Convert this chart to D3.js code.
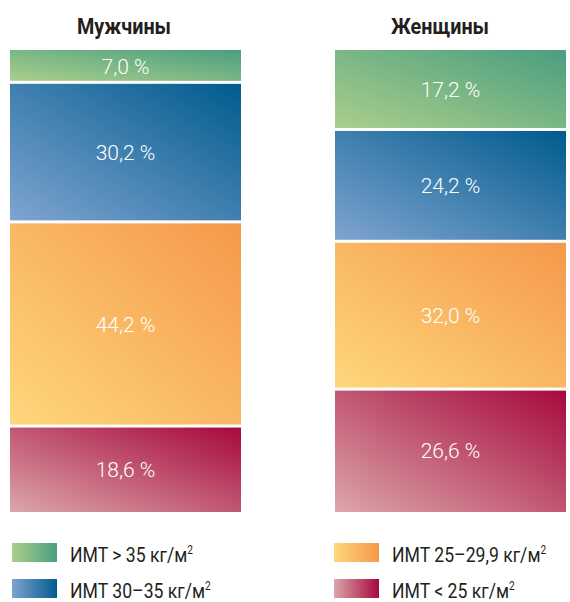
<!DOCTYPE html>
<html>
<head>
<meta charset="utf-8">
<script src="https://cdn.jsdelivr.net/npm/d3@7"></script>
<style>
  html, body { margin: 0; padding: 0; background: #fff; }
  svg { display: block; }
</style>
</head>
<body>
<svg id="chart" width="570" height="602"></svg>
<script>
// BMI distribution by sex, percent of group
const groups = ["Мужчины", "Женщины"];
const categories = ["ИМТ > 35 кг/м²", "ИМТ 30–35 кг/м²", "ИМТ 25–29,9 кг/м²", "ИМТ < 25 кг/м²"];
const menValues = [7.0, 30.2, 44.2, 18.6];
const womenValues = [17.2, 24.2, 32.0, 26.6];

// light (bottom-left) and dark (top-right) stops for each category
const lightColors = ["#aacf8b", "#7fa4d0", "#fed77c", "#dca6a9"];
const darkColors = ["#4b9e80", "#005b8e", "#f5984a", "#a6093d"];

const svg = d3.select("#chart");
const defs = svg.append("defs");

categories.forEach((c, i) => {
  const g = defs.append("linearGradient")
    .attr("id", "grad" + i)
    .attr("x1", 0).attr("y1", 1)
    .attr("x2", 1).attr("y2", 0);
  g.append("stop").attr("offset", "0%").attr("stop-color", lightColors[i]);
  g.append("stop").attr("offset", "100%").attr("stop-color", darkColors[i]);
});

const x = d3.scaleBand().domain(groups).range([10, 566]).paddingInner(0.2892);
const y = d3.scaleLinear().domain([0, 100]).range([50, 512]);
const gap = 3;

const data = [
  { group: groups[0], values: menValues },
  { group: groups[1], values: womenValues }
];

const titleX = { "Мужчины": 124, "Женщины": 440 };

data.forEach(d => {
  let cum = 0;
  const segs = d.values.map((v, i) => {
    const s = { i, v, y0: cum, y1: cum + v };
    cum += v;
    return s;
  });
  const col = svg.append("g");
  col.selectAll("rect")
    .data(segs)
    .join("rect")
    .attr("x", x(d.group))
    .attr("width", x.bandwidth())
    .attr("y", s => y(s.y0) + (s.i > 0 ? gap / 2 : 0))
    .attr("height", s => y(s.y1) - y(s.y0) - (s.i > 0 ? gap / 2 : 0) - (s.i < segs.length - 1 ? gap / 2 : 0))
    .attr("fill", s => `url(#grad${s.i})`);

  col.selectAll("text.val")
    .data(segs)
    .join("text")
    .attr("class", "val")
    .attr("x", x(d.group) + x.bandwidth() / 2)
    .attr("y", s => (y(s.y0) + y(s.y1)) / 2)
    .attr("dy", "0.36em")
    .attr("text-anchor", "middle")
    .attr("fill", "#fff")
    .attr("font-family", "Roboto, sans-serif")
    .attr("font-weight", 300)
    .attr("font-size", 21)
    .text(s => s.v.toFixed(1).replace(".", ",") + " %");

  svg.append("text")
    .attr("transform", `translate(${titleX[d.group]},34) scale(0.9,1)`)
    .attr("text-anchor", "middle")
    .attr("fill", "#231f20")
    .attr("font-family", "Roboto, sans-serif")
    .attr("font-weight", 700)
    .attr("font-size", 22)
    .text(d.group);
});

// legend: two columns, two rows
const legendPos = [
  { x: 12, y: 543 }, { x: 12, y: 579 },
  { x: 334, y: 543 }, { x: 334, y: 579 }
];
const legend = svg.append("g");
categories.forEach((c, i) => {
  const p = legendPos[i];
  const lg = defs.append("linearGradient")
    .attr("id", "lgrad" + i)
    .attr("x1", 0).attr("y1", 0.5)
    .attr("x2", 1).attr("y2", 0.5);
  lg.append("stop").attr("offset", "0%").attr("stop-color", lightColors[i]);
  lg.append("stop").attr("offset", "100%").attr("stop-color", darkColors[i]);
  legend.append("rect")
    .attr("x", p.x).attr("y", p.y)
    .attr("width", 45).attr("height", 19)
    .attr("fill", `url(#lgrad${i})`);
  const base = c.replace("²", "");
  const t = legend.append("text")
    .attr("transform", `translate(${p.x + 58},${p.y + 19}) scale(0.84,1)`)
    .attr("fill", "#231f20")
    .attr("font-family", "Roboto, sans-serif")
    .attr("font-size", 21);
  t.append("tspan").text(base);
  t.append("tspan").attr("dy", -8).attr("font-size", 12).text("2");
});
</script>
</body>
</html>
